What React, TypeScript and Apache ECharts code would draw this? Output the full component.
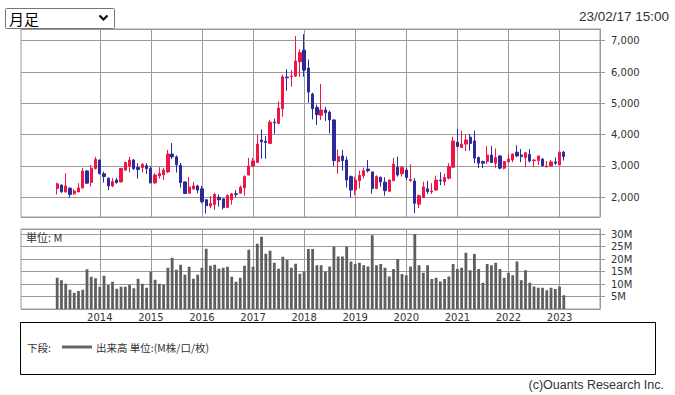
import React, { useEffect, useRef } from 'react';
import * as echarts from 'echarts';

// Monthly OHLC, Mar 2013 .. Feb 2023
const firstMonth = '2013-03';
const opens = [
  2280, 2390, 2170, 2290, 2110, 2170, 2300, 2840, 2470, 2920, 3190, 2750, 2610, 2360, 2550, 2490, 2870, 3000, 3190, 2950,
  2950, 3010, 2920, 2460, 2680, 2720, 2810, 3380, 3290, 3020, 2490, 2130, 2270, 2360, 2270, 1920, 1720, 1770, 2000, 1950,
  1670, 1920, 2110, 2130, 2300, 2710, 3000, 3110, 3830, 3790, 3720, 4400, 4360, 4830, 5840, 5850, 5870, 6330, 6700, 6130,
  5300, 4870, 4620, 4790, 4720, 4470, 3140, 3320, 3190, 2660, 2230, 2530, 2690, 2900, 2810, 2280, 2640, 2480, 2190, 2530,
  2960, 2750, 2870, 2530, 2520, 1780, 2000, 2270, 2170, 2230, 2550, 2500, 2610, 2960, 3760, 3590, 3700, 3920, 3800, 3270,
  3140, 3140, 3350, 3090, 3320, 2930, 3130, 3190, 3440, 3350, 3270, 3370, 3170, 3170, 3220, 2970, 3000, 3130, 3030, 3440,
];
const closes = [
  2430, 2180, 2360, 2090, 2200, 2300, 2840, 2450, 2930, 3210, 2750, 2660, 2360, 2500, 2470, 2920, 3110, 3190, 2920, 2890,
  3050, 2920, 2460, 2710, 2760, 2870, 3380, 3290, 3040, 2470, 2120, 2330, 2360, 2230, 1860, 1730, 1800, 2090, 1920, 1670,
  2060, 2110, 2090, 2320, 2660, 3000, 3160, 3700, 3770, 3750, 4400, 4380, 4850, 5850, 5820, 5870, 6350, 6620, 6060, 5360,
  4830, 4640, 4790, 4700, 4470, 3170, 3300, 3170, 2550, 2230, 2550, 2700, 2850, 2850, 2280, 2660, 2490, 2210, 2550, 3060,
  2710, 2950, 2630, 2570, 1810, 2050, 2330, 2180, 2200, 2550, 2530, 2630, 2980, 3800, 3620, 3700, 3830, 3720, 3250, 3090,
  3090, 3350, 3110, 3270, 2930, 3140, 3220, 3380, 3320, 3300, 3420, 3160, 3190, 3320, 3010, 3000, 3130, 3090, 3440, 3300,
];
const lows = [
  2090, 2130, 2150, 1990, 2070, 2170, 2280, 2430, 2340, 2890, 2740, 2470, 2230, 2320, 2430, 2470, 2840, 2790, 2870, 2600,
  2790, 2750, 2450, 2430, 2600, 2550, 2770, 3220, 2790, 2310, 2120, 2130, 2230, 2130, 1810, 1480, 1650, 1600, 1700, 1610,
  1670, 1760, 2000, 2130, 2050, 2700, 2960, 3110, 3230, 3230, 3700, 4030, 4340, 4570, 5400, 5530, 5850, 5850, 5850, 5020,
  4490, 4310, 4470, 4440, 4040, 3000, 2750, 2850, 2310, 1990, 2070, 2280, 2600, 2790, 2110, 2260, 2340, 2050, 2170, 2530,
  2660, 2660, 2550, 2500, 1490, 1650, 1970, 2110, 2110, 2210, 2390, 2370, 2570, 2950, 3600, 3590, 3480, 3490, 3090, 2930,
  2930, 3060, 3090, 2940, 2890, 2890, 3110, 3120, 3280, 3120, 2960, 3110, 2960, 3030, 2980, 2960, 2980, 3030, 3030, 3170,
];
const highs = [
  2470, 2410, 2770, 2320, 2260, 2450, 2940, 2870, 3030, 3290, 3200, 2820, 2630, 2610, 2620, 2940, 3140, 3290, 3220, 3090,
  3090, 3090, 3000, 2770, 2960, 2940, 3510, 3730, 3340, 3100, 2500, 2650, 2490, 2400, 2360, 1940, 2040, 2150, 2090, 1950,
  2090, 2140, 2230, 2380, 2700, 3260, 3260, 3990, 4170, 3960, 4470, 4510, 5070, 5920, 6090, 6060, 7150, 6720, 7210, 6400,
  5340, 4960, 5620, 4890, 4770, 4490, 3530, 3510, 3300, 2700, 2660, 2850, 2950, 3190, 2810, 2700, 2660, 2640, 2570, 3260,
  3300, 3000, 2950, 3050, 2610, 2090, 2500, 2520, 2450, 2690, 2800, 2750, 3090, 3940, 4180, 4130, 4010, 4020, 4130, 3300,
  3170, 3640, 3640, 3560, 3350, 3160, 3380, 3400, 3660, 3540, 3440, 3540, 3220, 3320, 3250, 3160, 3190, 3270, 3460, 3480,
];
// Monthly volume in millions, Mar 2013 .. Feb 2023
const volumes = [
  12.5, 11.5, 10.1, 7.7, 6.5, 7.2, 7.7, 15.9, 12.9, 12.3, 8.9, 13.3, 9.6, 10.9, 8.1, 8.9, 8.9, 9.7, 8.3, 12.1,
  10.1, 8.5, 14.9, 11.7, 10.1, 9.7, 16.5, 20.5, 15.7, 17.7, 13.7, 16.9, 12.1, 13.7, 16.5, 24.1, 17.3, 17.7, 16.1, 16.5,
  16.9, 12.9, 10.9, 12.5, 17.3, 23.7, 16.9, 26.1, 28.9, 22.1, 23.3, 18.5, 16.1, 20.9, 19.7, 16.5, 18.1, 14.1, 15.0, 24.0,
  24.0, 17.5, 17.5, 15.0, 17.0, 25.0, 21.0, 21.0, 25.0, 19.0, 18.0, 18.5, 17.5, 17.0, 29.5, 17.5, 18.0, 16.5, 13.0, 16.0,
  20.0, 14.0, 13.5, 17.0, 30.0, 17.5, 14.5, 17.5, 12.0, 12.5, 11.0, 12.0, 13.0, 18.0, 16.0, 16.5, 22.5, 15.5, 22.0, 16.0,
  10.5, 18.0, 17.5, 18.5, 16.0, 12.5, 14.5, 13.5, 19.0, 11.5, 15.5, 10.5, 9.0, 8.5, 8.5, 7.5, 8.5, 8.0, 9.0, 5.5,
];

const RED = '#ee1547';
const BLUE = '#2c2a9b';
const GRID = '#9a9a9a';

// axis months: Jul 2012 .. Oct 2023
const axisMonths: string[] = [];
for (let k = 0; k < 136; k++) {
  const y = 2012 + Math.floor((6 + k) / 12);
  const m = ((6 + k) % 12) + 1;
  axisMonths.push(`${y}-${m < 10 ? '0' + m : m}`);
}
const isYearStart = (v: string) => v.endsWith('-01') && v >= '2014';
const yearMonths = axisMonths.filter(isYearStart);

export default function App() {
  const ref = useRef<HTMLDivElement>(null);
  useEffect(() => {
    if (!ref.current) return;
    const chart = echarts.init(ref.current, undefined, { renderer: 'svg' });
    const start = axisMonths.indexOf(firstMonth);
    const candleData = axisMonths.map((_, i) => {
      const j = i - start;
      if (j < 0 || j >= opens.length) return ['-', '-', '-', '-'];
      return [opens[j], closes[j], lows[j], highs[j]];
    });
    const volData = axisMonths.map((_, i) => {
      const j = i - start;
      return j < 0 || j >= volumes.length ? '-' : volumes[j];
    });
    const yearLines = {
      silent: true,
      z: 1,
      symbol: ['none', 'none'],
      label: { show: false },
      emphasis: { disabled: true },
      lineStyle: { color: GRID, width: 1, type: 'solid' },
      data: yearMonths.map((m) => ({ xAxis: m })),
    };
    const axisFont = { color: '#333', fontSize: 10, fontFamily: 'DejaVu Sans' };
    const txt = (x: number, y: number, text: string, font: string, extra: any = {}) => ({
      type: 'text',
      x,
      y,
      z: 10,
      style: { text, font, fill: '#333', verticalAlign: 'middle', ...extra },
    });
    chart.setOption({
      animation: false,
      backgroundColor: '#fff',
      grid: [
        { left: 21, right: 75, top: 29, height: 188, show: true, borderColor: GRID, borderWidth: 1 },
        { left: 21, right: 75, top: 229, height: 80, show: true, borderColor: GRID, borderWidth: 1 },
      ],
      xAxis: [
        {
          type: 'category', gridIndex: 0, data: axisMonths, boundaryGap: true,
          axisLine: { show: false }, axisTick: { show: false }, axisLabel: { show: false }, splitLine: { show: false },
        },
        {
          type: 'category', gridIndex: 1, data: axisMonths, boundaryGap: true,
          axisLine: { show: false }, axisTick: { show: false }, splitLine: { show: false },
          axisLabel: {
            ...axisFont,
            margin: 3,
            interval: (_i: number, v: string) => isYearStart(v),
            formatter: (v: string) => v.slice(0, 4),
          },
        },
      ],
      yAxis: [
        {
          type: 'value', gridIndex: 0, position: 'right', min: 1370, max: 7375,
          axisLine: { show: true, lineStyle: { color: GRID } },
          axisTick: { show: true, length: 5, lineStyle: { color: GRID } },
          splitLine: { show: true, lineStyle: { color: GRID, width: 1 } },
          axisLabel: {
            ...axisFont, margin: 11, showMinLabel: false, showMaxLabel: false,
            formatter: (v: number) => v.toLocaleString('en-US'),
          },
        },
        {
          type: 'value', gridIndex: 1, position: 'right', min: 0, max: 32, interval: 5,
          axisLine: { show: true, lineStyle: { color: GRID } },
          axisTick: { show: true, length: 5, lineStyle: { color: GRID } },
          splitLine: { show: true, lineStyle: { color: GRID, width: 1 } },
          axisLabel: {
            ...axisFont, margin: 11, showMinLabel: false, showMaxLabel: false,
            formatter: (v: number) => `${v}M`,
          },
        },
      ],
      series: [
        {
          type: 'candlestick', xAxisIndex: 0, yAxisIndex: 0, data: candleData, barWidth: 2.8,
          itemStyle: { color: RED, color0: BLUE, borderColor: RED, borderColor0: BLUE, borderWidth: 1 },
          markLine: yearLines,
        },
        {
          type: 'bar', xAxisIndex: 1, yAxisIndex: 1, data: volData, barWidth: 2.8,
          itemStyle: { color: '#5f5f5f' },
          markLine: yearLines,
        },
      ],
      graphic: [
        {
          type: 'rect', z: 10, shape: { x: 5.5, y: 8.5, width: 109, height: 20, r: 1 },
          style: { fill: '#fff', stroke: '#767676', lineWidth: 1 },
        },
        txt(9, 18.5, '月足', '15px "Noto Sans CJK JP"', { fill: '#000' }),
        {
          type: 'polyline', z: 10, shape: { points: [[99.5, 15.5], [103.5, 19.5], [107.5, 15.5]] },
          style: { stroke: '#000', lineWidth: 2, fill: null },
        },
        txt(669, 16.5, '23/02/17 15:00', '13.5px "Liberation Sans"', { align: 'right' }),
        txt(26, 237, '単位: M', '11px "Noto Sans CJK JP"'),
        {
          type: 'rect', z: 10, shape: { x: 20.5, y: 322.5, width: 635, height: 52 },
          style: { fill: 'none', stroke: '#000', lineWidth: 1 },
        },
        txt(27, 347, '下段:', '10.5px "Noto Sans CJK JP"'),
        {
          type: 'line', z: 10, shape: { x1: 62, y1: 347, x2: 92, y2: 347 },
          style: { stroke: '#666', lineWidth: 3 },
        },
        txt(96, 347, '出来高 単位:(M株/口/枚)', '10.5px "Noto Sans CJK JP"'),
        txt(664, 385, '(c)Ouants Research Inc.', '12.5px "Liberation Sans"', { align: 'right' }),
      ],
    });
    return () => chart.dispose();
  }, []);
  return (
    <div
      ref={ref}
      style={{ position: 'absolute', left: 0, top: 0, width: 675, height: 395, background: '#fff' }}
    />
  );
}
